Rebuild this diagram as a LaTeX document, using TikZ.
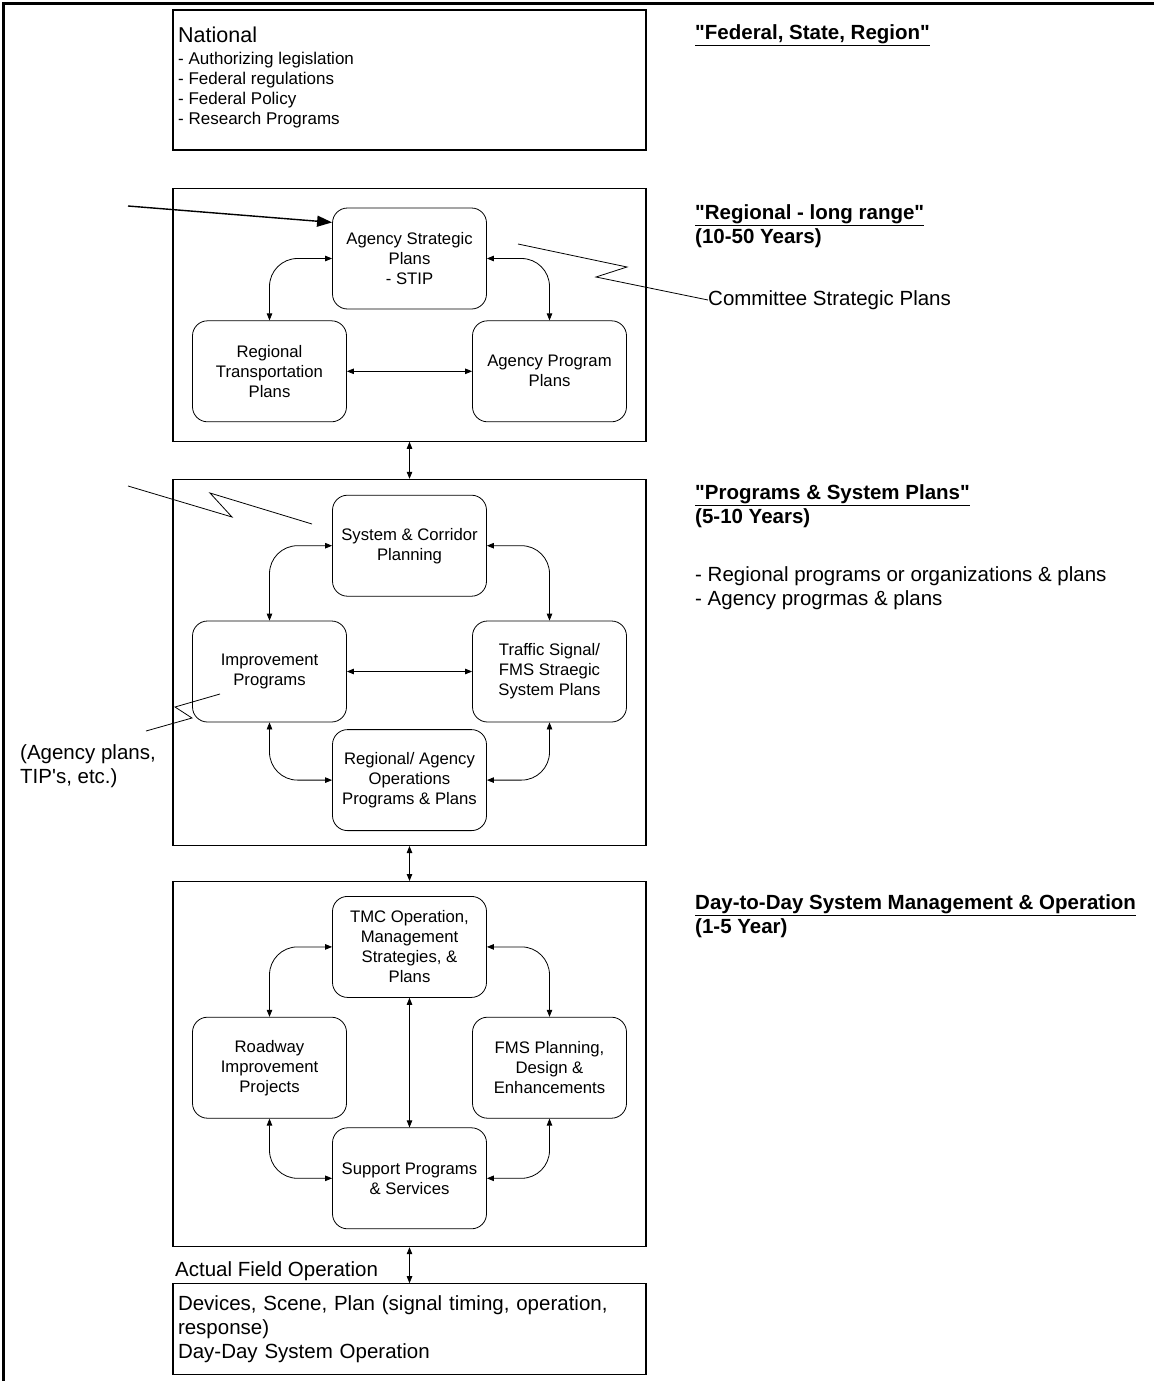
\documentclass[tikz,border=0pt]{standalone}
\usepackage{fontspec}
\setmainfont{Liberation Sans}[Ligatures=TeXOff]
\usetikzlibrary{arrows.meta, positioning}
\tikzset{level/.style={draw, line width=1.2pt, minimum width=473pt, inner sep=0pt}}
\tikzset{plan/.style={draw, line width=0.8pt, rounded corners=15pt, minimum width=154pt, minimum height=101pt, align=center, inner sep=2pt, font=\fontsize{16.7}{20}\selectfont}}
\tikzset{heading/.style={align=left, anchor=north west, inner sep=0pt, font=\bfseries\fontsize{20.5}{24}\selectfont}}
\tikzset{note/.style={align=left, inner sep=0pt, font=\fontsize{20.5}{24}\selectfont}}
\tikzset{link/.style={{Triangle[length=7pt,width=5.5pt]}-{Triangle[length=7pt,width=5.5pt]}, line width=0.8pt}}
\tikzset{curvelink/.style={link, rounded corners=28pt}}
\tikzset{zigzag/.style={line width=0.8pt}}
\tikzset{input/.style={-{Triangle[length=15pt,width=11pt]}, line width=1.4pt}}

\begin{document}
\begin{tikzpicture}[x=1pt, y=-1pt, node distance=36pt]
\useasboundingbox (0,0) rectangle (1154,1381);
\draw[line width=3pt] (1154,3.5) -- (3.5,3.5) -- (3.5,1381);

% levels
\node[level, minimum height=140pt] (national) at (409.5,80) {};
\node[anchor=north west, align=left, inner sep=0pt, font=\fontsize{17}{20}\selectfont] (nationaltext) at (178,27)
  {{\fontsize{21.5}{22}\selectfont National}\\[2pt]- Authorizing legislation\\- Federal regulations\\- Federal Policy\\- Research Programs};
\node[level, minimum height=253pt, below=37pt of national] (regional) {};
\node[level, minimum height=366pt, below=37pt of regional] (programs) {};
\node[level, minimum height=365pt, below=35pt of programs] (daily) {};
\node[level, minimum height=91pt, below=36pt of daily, text width=463pt, align=left, font=\fontsize{20.5}{24}\selectfont] (field)
  {Devices, Scene, Plan (signal timing, operation,\\response)\\Day-Day System Operation};
\node[note, anchor=base west] (fieldlabel) at (175,1276) {Actual Field Operation};

% regional - long range
\node[plan, below=20pt of regional.north] (strategic) {Agency Strategic\\Plans\\- STIP};
\node[plan, below=11pt of strategic.south, xshift=-140pt] (rtp) {Regional\\Transportation\\Plans};
\node[plan, below=11pt of strategic.south, xshift=140pt] (app) {Agency Program\\Plans};

% programs & system plans
\node[plan, below=16pt of programs.north] (corridor) {System \& Corridor\\Planning};
\node[plan, below=24pt of corridor.south, xshift=-140pt] (improvement) {Improvement\\Programs};
\node[plan, below=24pt of corridor.south, xshift=140pt] (signal) {Traffic Signal/\\FMS Straegic\\System Plans};
\node[plan, above=15pt of programs.south] (operations) {Regional/ Agency\\Operations\\Programs \& Plans};

% day-to-day
\node[plan, below=15pt of daily.north] (tmc) {TMC Operation,\\Management\\Strategies, \&\\Plans};
\node[plan, below=19pt of tmc.south, xshift=-140pt] (roadway) {Roadway\\Improvement\\Projects};
\node[plan, below=19pt of tmc.south, xshift=140pt] (fms) {FMS Planning,\\Design \&\\Enhancements};
\node[plan, above=18pt of daily.south] (support) {Support Programs\\\& Services};

% headings on the right
\node[heading] (nationalhead) at (695,24) {\underline{"Federal, State, Region"}};
\node[heading] (regionalhead) at (695,204) {\underline{"Regional - long range"}\\(10-50 Years)};
\node[heading] (programshead) at (695,484) {\underline{"Programs \& System Plans"}\\(5-10 Years)};
\node[note, anchor=north west] (programsnote) at (695,566) {- Regional programs or organizations \& plans\\- Agency progrmas \& plans};
\node[heading] (dailyhead) at (695,894) {\underline{Day-to-Day System Management \& Operation}\\(1-5 Year)};

\node[note, anchor=west] (committee) at (708,300) {Committee Strategic Plans};
\node[note, anchor=north west] (agencyplans) at (20,744) {(Agency plans,\\TIP's, etc.)};

\coordinate (strategicin) at (128,206);
\coordinate (committeeend) at (518,244);
\coordinate (corridorin) at (128,486);
\coordinate (corridorend) at (312,524);
\coordinate (improvementend) at (220,694);
\coordinate (agencyplansend) at (146,731);

\draw[input] (strategicin) -- (strategic.155);
\draw[zigzag] (committeeend) -- (627,267) -- (596,277) -- (committee.west);
\draw[zigzag] (corridorin) -- (232,517) -- (210,493) -- (corridorend);
\draw[zigzag] (improvementend) -- (175,707) -- (192,718) -- (agencyplansend);

\draw[link] (regional) -- (programs);
\draw[link] (programs) -- (daily);
\draw[link] (daily) -- (field);

\draw[curvelink] (strategic.west) -| (rtp.north);
\draw[curvelink] (strategic.east) -| (app.north);
\draw[link] (rtp) -- (app);

\draw[curvelink] (corridor.west) -| (improvement.north);
\draw[curvelink] (corridor.east) -| (signal.north);
\draw[curvelink] (improvement.south) |- (operations.west);
\draw[curvelink] (signal.south) |- (operations.east);
\draw[link] (improvement) -- (signal);

\draw[curvelink] (tmc.west) -| (roadway.north);
\draw[curvelink] (tmc.east) -| (fms.north);
\draw[curvelink] (roadway.south) |- (support.west);
\draw[curvelink] (fms.south) |- (support.east);
\draw[link] (tmc) -- (support);
\end{tikzpicture}
\end{document}
